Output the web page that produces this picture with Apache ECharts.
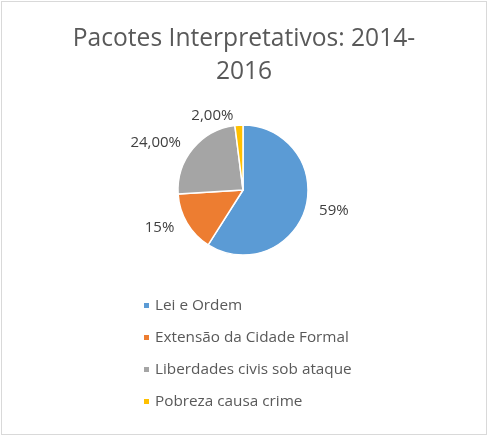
<!DOCTYPE html>
<html><head><meta charset="utf-8">
<script src="https://cdn.jsdelivr.net/npm/echarts@6/dist/echarts.min.js"></script>
<style>
html,body{margin:0;padding:0;background:#fff;}
#frame{position:absolute;left:1px;top:1px;width:484px;height:432px;border:1px solid #d9d9d9;}
#c{position:absolute;left:0;top:0;width:488px;height:436px;}
</style></head>
<body><div id="frame"></div><div id="c"></div>
<script>
const titleText = 'Pacotes Interpretativos: 2014-\n2016';
const categories = ['Lei e Ordem', 'Extensão da Cidade Formal', 'Liberdades civis sob ataque', 'Pobreza causa crime'];
const values = [59, 15, 24, 2];
const labelTexts = ['59%', '15%', '24,00%', '2,00%'];
const colors = ['#5b9bd5', '#ed7d31', '#a5a5a5', '#ffc000'];

const chart = echarts.init(document.getElementById('c'));
chart.setOption({
  animation: false,
  color: colors,
  title: {
    text: titleText, left: 'center', top: 17,
    textStyle: {fontFamily: 'Open Sans', fontSize: 24.6, fontWeight: 'normal', color: '#595959', lineHeight: 33}
  },
  legend: {
    orient: 'vertical', left: 137, top: 293, itemGap: 17,
    itemWidth: 7, itemHeight: 7, icon: 'rect',
    data: categories,
    textStyle: {fontFamily: 'Open Sans', fontSize: 15.3, color: '#595959'}
  },
  series: [{
    type: 'pie',
    center: [243, 190], radius: 65,
    startAngle: 90, clockwise: true,
    itemStyle: {borderColor: '#fff', borderWidth: 1.5},
    label: {
      show: true, position: 'outside',
      fontFamily: 'Open Sans', fontSize: 15, color: '#404040',
      formatter: p => labelTexts[p.dataIndex]
    },
    labelLine: {show: false, length: 9, length2: 0},
    data: categories.map((n, i) => ({name: n, value: values[i]}))
  }]
});
</script></body></html>
